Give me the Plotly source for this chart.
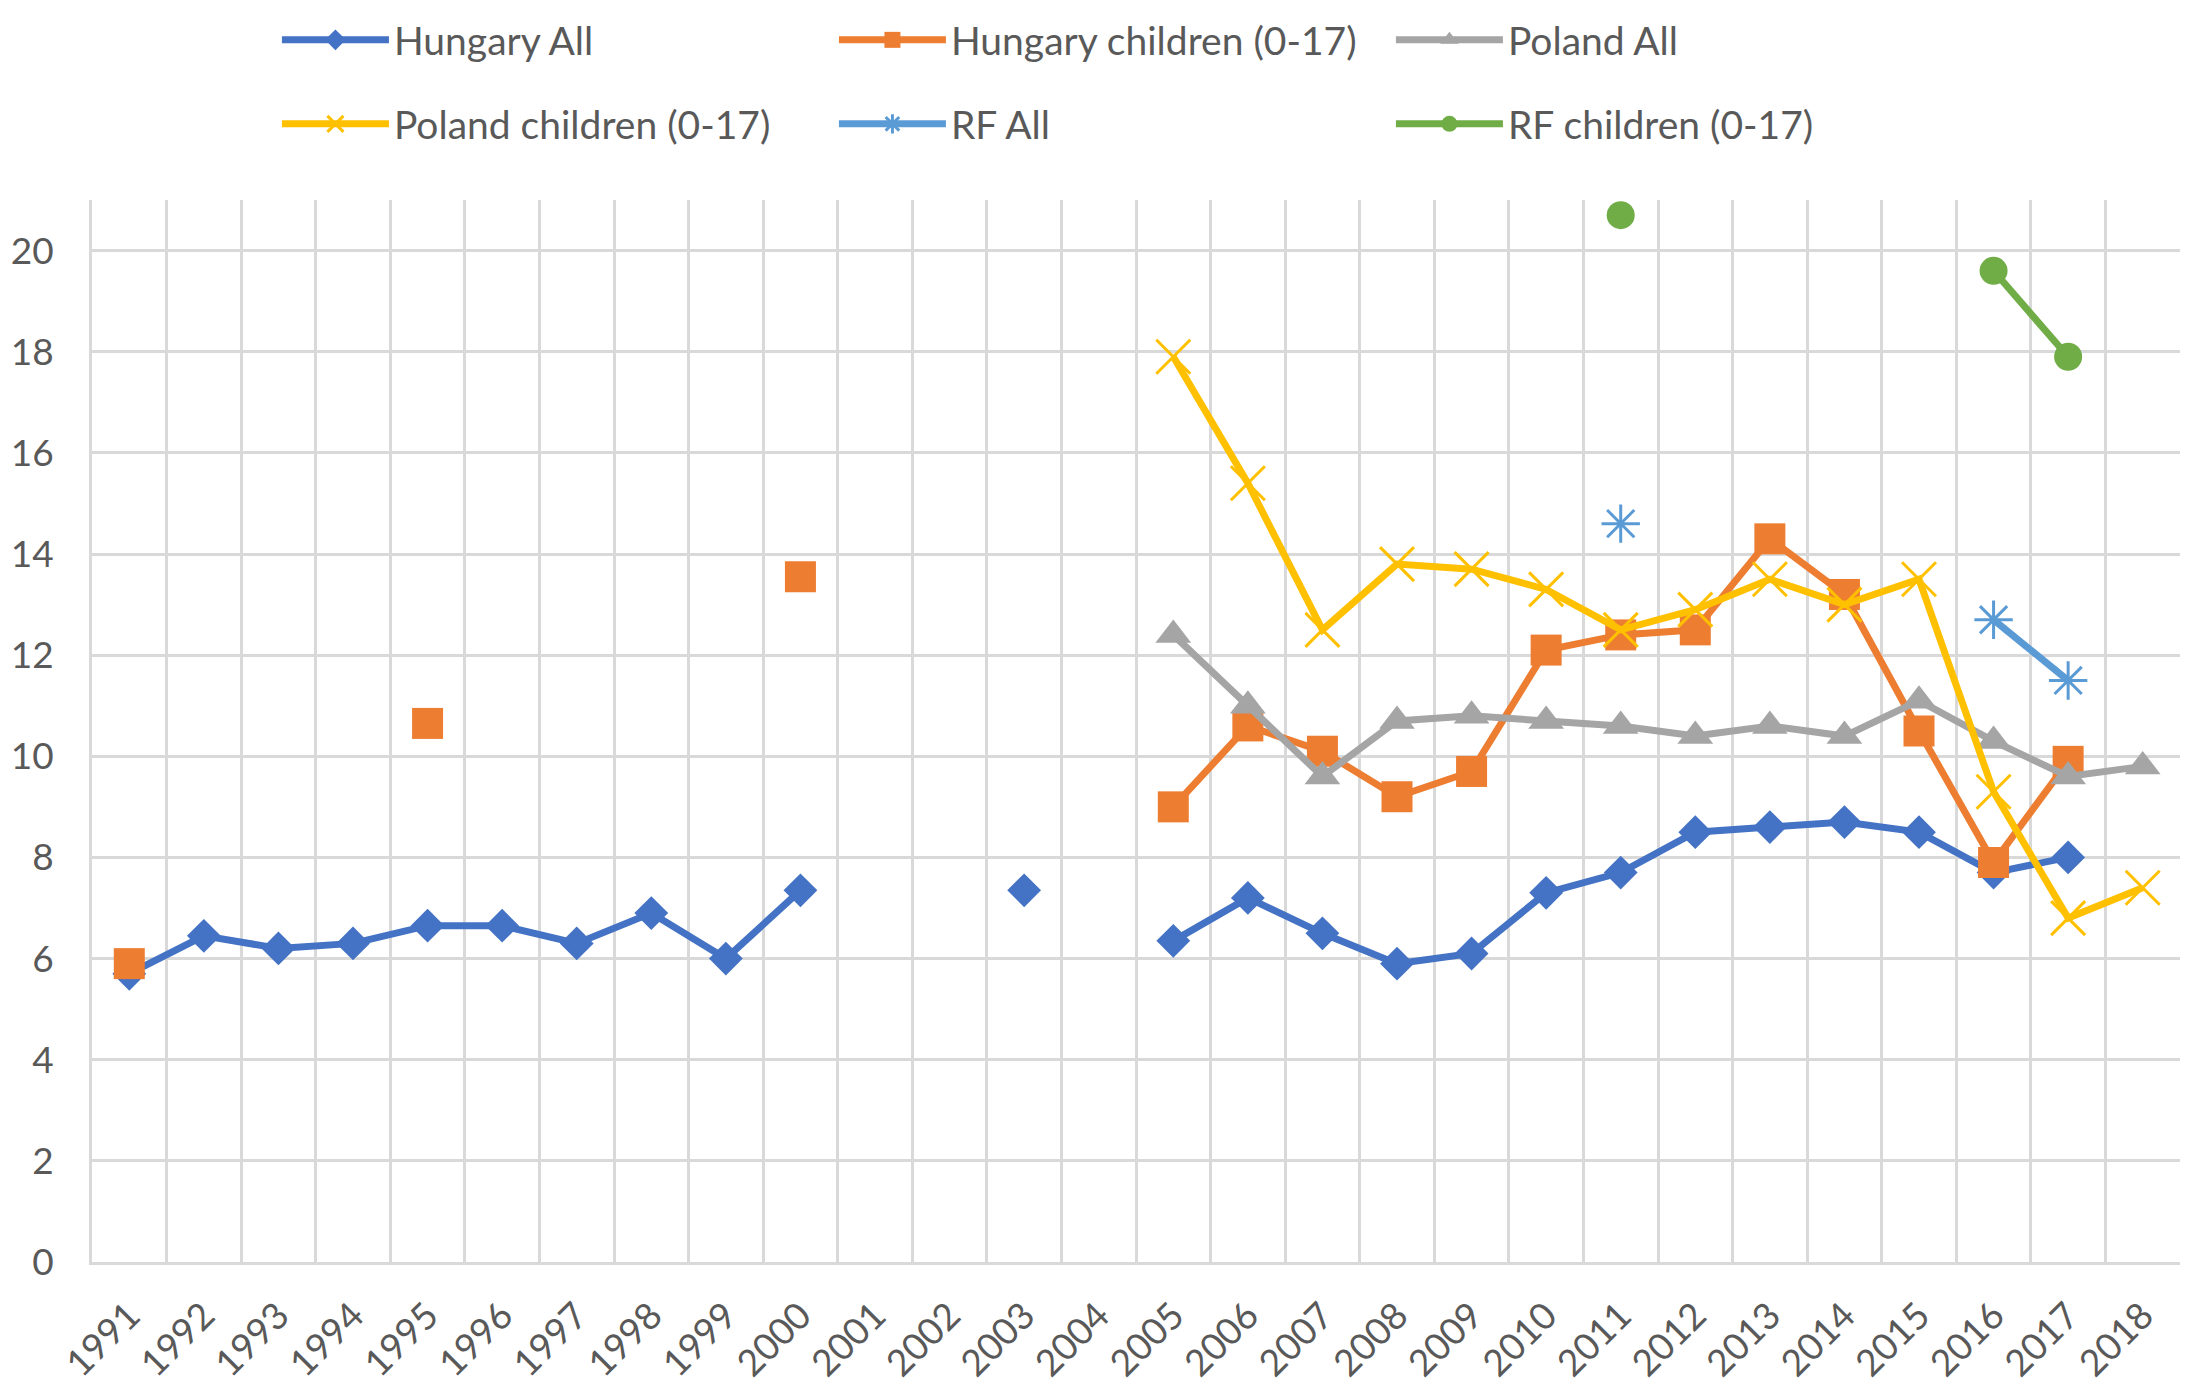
import plotly.graph_objects as go

years = [str(y) for y in range(1991, 2019)]

hungary_all = [5.7, 6.45, 6.2, 6.3, 6.65, 6.65, 6.3, 6.9, 6.0, 7.35,
               None, None, 7.35, None, 6.35, 7.2, 6.5, 5.9, 6.1, 7.3,
               7.7, 8.5, 8.6, 8.7, 8.5, 7.7, 8.0, None]
hungary_children = [5.9, None, None, None, 10.65, None, None, None, None, 13.55,
                    None, None, None, None, 9.0, 10.6, 10.1, 9.2, 9.7, 12.1,
                    12.4, 12.5, 14.3, 13.2, 10.5, 7.9, 9.9, None]
poland_all = [None, None, None, None, None, None, None, None, None, None,
              None, None, None, None, 12.4, 11.0, 9.6, 10.7, 10.8, 10.7,
              10.6, 10.4, 10.6, 10.4, 11.1, 10.3, 9.6, 9.8]
poland_children = [None, None, None, None, None, None, None, None, None, None,
                   None, None, None, None, 17.9, 15.4, 12.5, 13.8, 13.7, 13.3,
                   12.5, 12.9, 13.5, 13.0, 13.5, 9.3, 6.8, 7.4]
rf_all = [None, None, None, None, None, None, None, None, None, None,
          None, None, None, None, None, None, None, None, None, None,
          14.6, None, None, None, None, 12.7, 11.5, None]
rf_children = [None, None, None, None, None, None, None, None, None, None,
               None, None, None, None, None, None, None, None, None, None,
               20.7, None, None, None, None, 19.6, 17.9, None]

series = [
    ("Hungary All", hungary_all, "#4472C4", "diamond", 26, 0, "legend"),
    ("Hungary children (0-17)", hungary_children, "#ED7D31", "square", 31, 0, "legend"),
    ("Poland All", poland_all, "#A5A5A5", "triangle-up", 31, 0, "legend"),
    ("Poland children (0-17)", poland_children, "#FFC000", "x-thin-open", 34, 3, "legend2"),
    ("RF All", rf_all, "#5B9BD5", "asterisk-open", 32, 3, "legend2"),
    ("RF children (0-17)", rf_children, "#70AD47", "circle", 28, 0, "legend2"),
]

fig = go.Figure()
for name, vals, color, sym, size, lw, leg in series:
    fig.add_trace(go.Scatter(
        x=years, y=vals, name=name, mode="lines+markers",
        line=dict(color=color, width=7),
        marker=dict(symbol=sym, size=size, color=color,
                    line=dict(color=color, width=lw)),
        connectgaps=False, legend=leg,
    ))

grid = "#D9D9D9"
font_family = "Lato, 'Open Sans', sans-serif"
legend_common = dict(
    orientation="h", xanchor="left", yanchor="top",
    xref="container", yref="container",
    font=dict(family=font_family, size=39, color="#595959"),
    bgcolor="rgba(0,0,0,0)", entrywidth=435, itemwidth=107,
)
fig.update_layout(
    width=2190, height=1398,
    margin=dict(l=84, r=18, t=192, b=144),
    paper_bgcolor="white", plot_bgcolor="white",
    font=dict(family=font_family, color="#595959"),
    legend=dict(x=0.1228, y=1.0, **legend_common),
    legend2=dict(x=0.1228, y=1 - 84 / 1398, **legend_common),
    xaxis=dict(
        type="category", categoryorder="array", categoryarray=years,
        range=[-0.5, 27.5], tickson="boundaries", showgrid=True,
        gridcolor=grid, gridwidth=3, ticks="", tickangle=-45,
        tickfont=dict(size=37, color="#595959"), ticklabelstandoff=14,
        showline=True, linecolor=grid, linewidth=3, mirror=False,
        automargin=False,
    ),
    yaxis=dict(
        range=[0, 21], dtick=2, showgrid=True, gridcolor=grid, gridwidth=3,
        zeroline=False, ticks="", tickfont=dict(size=37, color="#595959"),
        showline=True, linecolor=grid, linewidth=3, ticklabelstandoff=28,
        automargin=False,
    ),
)

fig.write_html("out.html")
